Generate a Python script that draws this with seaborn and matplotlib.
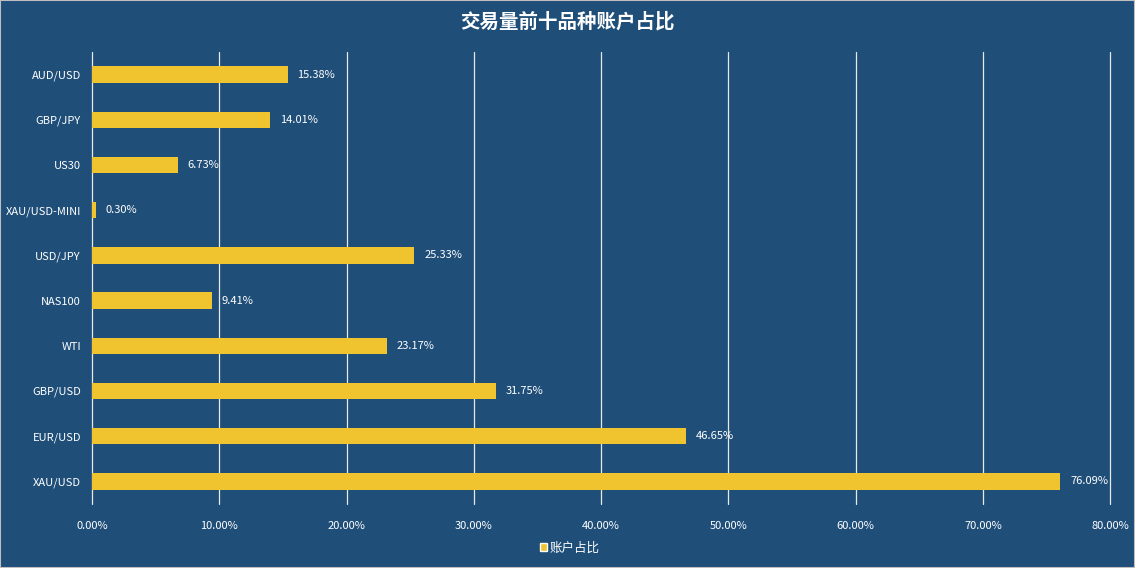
import matplotlib
matplotlib.use('Agg')
import matplotlib.pyplot as plt
import seaborn as sns
import pandas as pd
from matplotlib.ticker import FuncFormatter
from matplotlib.patches import Patch

# 数据（从上到下）
symbols = ['AUD/USD', 'GBP/JPY', 'US30', 'XAU/USD-MINI', 'USD/JPY',
           'NAS100', 'WTI', 'GBP/USD', 'EUR/USD', 'XAU/USD']
ratios = [15.38, 14.01, 6.73, 0.30, 25.33, 9.41, 23.17, 31.75, 46.65, 76.09]

bg = '#1F4E79'
bar_color = '#F0C42E'

sns.set_theme(style='white')
plt.rcParams['font.family'] = ['Noto Sans CJK SC', 'DejaVu Sans']

df = pd.DataFrame({'品种': symbols, '账户占比': ratios})

fig = plt.figure(figsize=(11.35, 5.68), dpi=100, facecolor=bg)
ax = fig.add_axes([0.0811, 0.1127, 0.897, 0.7958])
ax.set_facecolor(bg)

sns.barplot(data=df, y='品种', x='账户占比', color=bar_color, width=0.36,
            saturation=1, linewidth=0, ax=ax, zorder=3)

ax.set_xlim(0, 80)
ax.set_ylim(9.5, -0.5)
ax.set_xticks(range(0, 81, 10))
ax.xaxis.set_major_formatter(FuncFormatter(lambda v, p: f'{v:.2f}%'))
ax.grid(axis='x', color='#E8E8E8', linewidth=0.9, zorder=0)
ax.grid(axis='y', visible=False)
for gl in ax.get_xgridlines():
    gl.set_clip_on(False)
for s in ax.spines.values():
    s.set_visible(False)
ax.tick_params(axis='both', colors='white', labelsize=8, length=0)
ax.tick_params(axis='x', pad=12)
ax.tick_params(axis='y', pad=8)
ax.set_xlabel('')
ax.set_ylabel('')

for i, v in enumerate(ratios):
    ax.annotate(f'{v:.2f}%', (v, i), xytext=(7, 0), textcoords='offset points',
                va='center', ha='left', color='white', fontsize=8)

fig.text(0.5, 0.962, '交易量前十品种账户占比', ha='center', va='center',
         color='white', fontsize=14, fontweight='bold')

leg = fig.legend(handles=[Patch(facecolor=bar_color, label='账户占比')],
                 loc='center', bbox_to_anchor=(0.502, 0.035), frameon=False,
                 fontsize=9, handlelength=0.6, handleheight=0.6, handletextpad=0.2)
for t in leg.get_texts():
    t.set_color('white')

# 外框
fig.patches.append(plt.Rectangle((0, 0), 1, 1, transform=fig.transFigure,
                                 fill=False, edgecolor='#BFBFBF', linewidth=1.5))

fig.savefig('out.png', dpi=100, facecolor=bg)
